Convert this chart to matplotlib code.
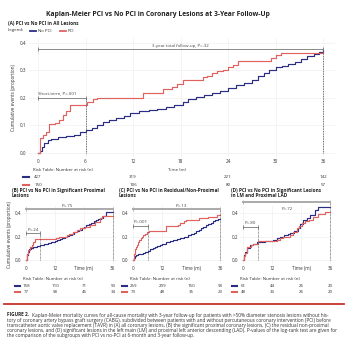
import matplotlib
matplotlib.use('Agg')
import matplotlib.pyplot as plt
from matplotlib import transforms
from matplotlib.lines import Line2D

plt.rcParams['font.family'] = ['Open Sans', 'DejaVu Sans']

NAVY = '#2b2d84'
RED = '#e0625f'

# ---- data (months, cumulative events) ----
a_nopci_t = [0, 0.3, 0.5, 0.8, 1.2, 1.6, 2.5, 3.5, 4.5, 5.3, 6.0, 6.8, 7.4, 8.2, 9.0, 9.8, 10.8, 11.6,
             12.8, 14.0, 15.0, 16.2, 17.2, 18.3, 19.0, 20.0, 21.0, 22.0, 23.0, 24.0, 25.0, 26.0, 27.0,
             27.8, 28.5, 29.2, 30.0, 30.8, 31.6, 32.4, 33.2, 34.0, 34.8, 35.5, 36.0]
a_nopci_v = [0, 0.008, 0.02, 0.035, 0.045, 0.052, 0.056, 0.06, 0.065, 0.075, 0.083, 0.09, 0.10, 0.113,
             0.12, 0.127, 0.135, 0.145, 0.15, 0.155, 0.16, 0.168, 0.175, 0.185, 0.195, 0.203, 0.21, 0.218,
             0.225, 0.235, 0.245, 0.255, 0.265, 0.278, 0.29, 0.302, 0.31, 0.316, 0.322, 0.33, 0.34, 0.35,
             0.358, 0.366, 0.372]
a_pci_t = [0, 0.2, 0.6, 1.0, 1.4, 2.1, 2.7, 3.2, 3.5, 4.0, 6.2, 7.0, 7.5, 13.2, 15.8, 16.9, 17.6, 18.3,
           20.8, 21.4, 22.0, 22.6, 23.4, 24.0, 24.6, 25.3, 29.4, 30.0, 30.7, 36.0]
a_pci_v = [0, 0.053, 0.065, 0.077, 0.104, 0.11, 0.12, 0.137, 0.15, 0.175, 0.186, 0.195, 0.2, 0.216,
           0.232, 0.24, 0.25, 0.265, 0.275, 0.28, 0.29, 0.295, 0.3, 0.31, 0.32, 0.334, 0.345, 0.355,
           0.362, 0.365]

b_nopci_t = [0, 0.3, 0.7, 1.2, 2.0, 3.0, 4.5, 6.0, 7.5, 9.0, 10.5, 12.0, 13.0, 14.0, 15.0, 16.0, 17.0,
             18.0, 19.0, 20.0, 21.0, 22.0, 23.0, 24.0, 25.0, 26.0, 27.0, 28.0, 29.0, 30.0, 31.0, 32.0,
             33.0, 36]
b_nopci_v = [0, 0.04, 0.07, 0.09, 0.1, 0.11, 0.12, 0.13, 0.14, 0.145, 0.155, 0.16, 0.17, 0.18, 0.19,
             0.195, 0.205, 0.215, 0.225, 0.24, 0.25, 0.26, 0.27, 0.285, 0.3, 0.31, 0.32, 0.33, 0.34, 0.35,
             0.36, 0.38, 0.41, 0.41]
b_pci_t = [0, 0.3, 0.8, 1.5, 2.3, 3.0, 3.7, 12.3, 13.5, 16.8, 18.0, 19.5, 21.0, 22.3, 24.4, 26.4, 28.5,
           30.6, 31.3, 36]
b_pci_v = [0, 0.05, 0.086, 0.11, 0.128, 0.157, 0.177, 0.19, 0.2, 0.214, 0.225, 0.243, 0.26, 0.271,
           0.286, 0.3, 0.328, 0.357, 0.375, 0.375]

c_nopci_t = [0, 0.3, 0.7, 1.2, 2.0, 3.0, 4.0, 5.0, 6.0, 7.0, 8.0, 9.0, 10.0, 11.0, 12.0, 13.5, 15.0,
             16.5, 18.0, 19.5, 21.0, 22.5, 24.0, 25.0, 26.0, 27.0, 28.0, 29.0, 30.0, 31.0, 32.0, 33.0,
             34.0, 35.0, 36]
c_nopci_v = [0, 0.015, 0.03, 0.04, 0.05, 0.055, 0.06, 0.07, 0.08, 0.09, 0.1, 0.11, 0.12, 0.13, 0.14,
             0.15, 0.16, 0.17, 0.18, 0.19, 0.2, 0.21, 0.225, 0.235, 0.245, 0.255, 0.27, 0.285, 0.3, 0.31,
             0.32, 0.33, 0.34, 0.35, 0.355]
c_pci_t = [0, 0.3, 0.7, 1.1, 1.5, 2.0, 2.5, 3.0, 3.5, 4.2, 5.0, 5.8, 6.5, 13.5, 18.5, 19.5, 21.0,
           22.0, 27.0, 31.0, 34.5, 36]
c_pci_v = [0, 0.05, 0.09, 0.11, 0.13, 0.15, 0.17, 0.185, 0.2, 0.21, 0.225, 0.24, 0.25, 0.29, 0.3,
           0.315, 0.33, 0.345, 0.36, 0.37, 0.385, 0.385]

d_nopci_t = [0, 0.3, 0.7, 1.4, 2.8, 4.0, 5.5, 9.0, 12.4, 14.0, 15.2, 17.0, 18.5, 19.4, 21.0, 22.8,
             23.5, 24.9, 26.5, 27.7, 29.8, 31.1, 36]
d_nopci_v = [0, 0.04, 0.07, 0.10, 0.125, 0.14, 0.155, 0.16, 0.175, 0.19, 0.2, 0.21, 0.225, 0.235,
             0.25, 0.275, 0.31, 0.34, 0.36, 0.385, 0.43, 0.455, 0.455]
d_pci_t = [0, 0.3, 0.7, 1.6, 3.0, 4.1, 6.2, 13.8, 15.0, 16.6, 19.4, 20.5, 22.1, 23.0, 24.2, 25.5,
           27.0, 29.0, 31.1, 33.8, 36]
d_pci_v = [0, 0.03, 0.06, 0.11, 0.125, 0.14, 0.165, 0.175, 0.185, 0.195, 0.215, 0.24, 0.27, 0.29,
           0.315, 0.33, 0.345, 0.37, 0.39, 0.41, 0.41]

risk_months = [0, 12, 24, 36]
a_risk_nopci = [427, 319, 221, 142]
a_risk_pci = [150, 106, 80, 57]
b_risk_nopci = [158, 110, 71, 50]
b_risk_pci = [77, 58, 45, 34]
c_risk_nopci = [269, 209, 150, 93]
c_risk_pci = [73, 48, 35, 23]
d_risk_nopci = [61, 44, 25, 20]
d_risk_pci = [48, 33, 25, 20]

p_short = ['.001', '.24', '.001', '.80']
p_total = ['.32', '.75', '.13', '.72']

caption = [
    "Kaplan-Meier mortality curves for all-cause mortality with 3-year follow-up for patients with >50% diameter stenosis lesions without his-",
    "tory of coronary artery bypass graft surgery (CABG), subdivided between patients with and without percutaneous coronary intervention (PCI) before",
    "transcatheter aortic valve replacement (TAVR) in (A) all coronary lesions, (B) the significant proximal coronary lesions, (C) the residual non-proximal",
    "coronary lesions, and (D) significant lesions in the left main (LM) and proximal left anterior descending (LAD). P-values of the log-rank test are given for",
    "the comparison of the subgroups with PCI vs no-PCI at 6-month and 3-year follow-up.",
]

W, H = 348, 350
fig = plt.figure(figsize=(W / 100, H / 100), dpi=100)

TICK = 3.3
SMALL = 3.2
HEAD = 3.4


def fx(px):
    return px / W


def fy(py):
    return 1 - py / H


def style(ax, fs):
    for s in ax.spines.values():
        s.set_visible(False)
    ax.tick_params(length=0, labelsize=fs, pad=1.5, colors='#333333')
    ax.grid(True, color='#ececec', lw=0.4)
    ax.set_axisbelow(True)


def bracket(ax, x0, x1, y, lw, color, ms):
    ax.plot([x0, x1], [y, y], color=color, lw=lw, marker='|', ms=ms, mew=0.6, clip_on=False)


def risk_rows(ax, y_head, y_rows, nopci, pci, fs, head_x, lx0, lx1):
    tr = transforms.blended_transform_factory(ax.transData, fig.transFigure)
    ax.text(head_x, fy(y_head), 'Risk Table: Number at risk (n)', transform=tr, fontsize=fs,
            ha='left', va='center', color='#333333')
    for row, col, yy in ((nopci, NAVY, y_rows[0]), (pci, RED, y_rows[1])):
        fig.add_artist(Line2D([fx(lx0), fx(lx1)], [fy(yy), fy(yy)], color=col, lw=1.5))
        for m, n in zip(risk_months, row):
            ax.text(m, fy(yy), str(n), transform=tr, fontsize=fs, ha='center', va='center',
                    color='#333333')


# ---- title and panel A header ----
fig.text(fx(158), fy(15), 'Kaplan-Meier PCI vs No PCI in Coronary Lesions at 3-Year Follow-Up',
         ha='center', va='center', fontsize=4.9, fontweight='bold', color='#222222')
fig.text(fx(8), fy(24), '(A) PCI vs No PCI in All Lesions', fontsize=HEAD, fontweight='bold',
         va='center', color='#222222')
fig.text(fx(8), fy(30.5), 'Legend:', fontsize=SMALL, va='center', color='#333333')
fig.add_artist(Line2D([fx(30), fx(36)], [fy(30.5), fy(30.5)], color=NAVY, lw=1.3))
fig.text(fx(37.5), fy(30.5), 'No PCI', fontsize=SMALL, va='center', color='#333333')
fig.add_artist(Line2D([fx(60), fx(66)], [fy(30.5), fy(30.5)], color=RED, lw=1.3))
fig.text(fx(67.5), fy(30.5), 'PCI', fontsize=SMALL, va='center', color='#333333')

# ---- panel A ----
axA = fig.add_axes([fx(28.5), fy(157), fx(334.9 - 28.5), (157 - 38.4) / H])
style(axA, TICK)
axA.set_xlim(-1.2, 37.5)
axA.set_ylim(-0.015, 0.415)
axA.set_xticks(range(0, 37, 6))
axA.set_yticks([0, 0.1, 0.2, 0.3, 0.4])
axA.set_yticklabels(['0.0', '0.1', '0.2', '0.3', '0.4'])
axA.set_ylabel('Cumulative events (proportion)', fontsize=TICK, labelpad=3, color='#333333')
axA.step(a_nopci_t, a_nopci_v, where='post', color=NAVY, lw=0.85)
axA.step(a_pci_t, a_pci_v, where='post', color=RED, lw=0.85)
axA.plot([6, 6], [0, 0.2], color='#444444', lw=0.6, ls=(0, (1, 1)))
axA.plot([36, 36], [0, 0.378], color='#444444', lw=0.6, ls=(0, (1, 1)))
bracket(axA, 0, 6, 0.2, 0.6, '#777777', 3)
axA.text(0, 0.21, 'Short-term, P=' + p_short[0], fontsize=SMALL, ha='left', va='bottom',
         color='#444444')
bracket(axA, 0, 36, 0.378, 0.6, '#777777', 3)
axA.text(18, 0.381, '3-year total follow-up, P=' + p_total[0], fontsize=SMALL, ha='center',
         va='bottom', color='#444444')
trA = transforms.blended_transform_factory(axA.transData, fig.transFigure)
axA.text(17.6, fy(170), 'Time (m)', transform=trA, fontsize=SMALL, ha='center', va='center',
         color='#333333')
risk_rows(axA, 170, (176.5, 184.5), a_risk_nopci, a_risk_pci, SMALL, -0.6, 23, 29)

# ---- panels B, C, D ----
panels = [
    (23.1, '(B) PCI vs No PCI in Significant Proximal\nLesions', 12,
     b_nopci_t, b_nopci_v, b_pci_t, b_pci_v, b_risk_nopci, b_risk_pci, 0.23, 0.435, 17),
    (130.4, '(C) PCI vs No PCI in Residual/Non-Proximal\nLesions', 119,
     c_nopci_t, c_nopci_v, c_pci_t, c_pci_v, c_risk_nopci, c_risk_pci, 0.294, 0.435, 20),
    (240.4, '(D) PCI vs No PCI in Significant Lesions\nin LM and Proximal LAD', 231,
     d_nopci_t, d_nopci_v, d_pci_t, d_pci_v, d_risk_nopci, d_risk_pci, 0.285, 0.5, 18),
]
for i, (left, head, hx, nt, nv, pt, pv, rn, rp, ys, yt, px) in enumerate(panels):
    fig.text(fx(hx), fy(193), head, fontsize=HEAD, fontweight='bold', va='center', ha='left',
             linespacing=1.2, color='#222222')
    ax = fig.add_axes([fx(left), fy(263.5), fx(93.5), (263.5 - 206.3) / H])
    style(ax, TICK)
    ax.set_xlim(-1.2, 37.5)
    ax.set_ylim(-0.03, 0.46)
    ax.set_xticks([0, 12, 24, 36])
    ax.set_xticklabels(['0', '12', 'Time (m)', '36'])
    ax.set_yticks([0, 0.2, 0.4])
    ax.set_yticklabels(['0.0', '0.2', '0.4'])
    if i == 0:
        ax.set_ylabel('Cumulative events (proportion)', fontsize=TICK, labelpad=2, color='#333333')
    ax.step(nt, nv, where='post', color=NAVY, lw=0.85)
    ax.step(pt, pv, where='post', color=RED, lw=0.85)
    ax.plot([6, 6], [0, ys], color='#444444', lw=0.5, ls=(0, (1, 1)))
    ax.plot([36, 36], [0, yt], color='#444444', lw=0.5, ls=(0, (1, 1)), clip_on=False)
    bracket(ax, 0, 6, ys, 0.6, '#777777', 2.5)
    ax.text(3, ys + 0.012, 'P=' + p_short[i + 1], fontsize=SMALL, ha='center', va='bottom',
            color='#444444')
    bracket(ax, 0, 36, yt, 1.4, '#aaaaaa', 2.5)
    if i == 2:
        ax.text(px, yt - 0.06, 'P=' + p_total[i + 1], fontsize=SMALL, ha='center', va='center',
                color='#444444')
    else:
        ax.text(px, yt + 0.01, 'P=' + p_total[i + 1], fontsize=SMALL, ha='center', va='bottom',
                color='#444444', clip_on=False)
    risk_rows(ax, 279, (286, 292), rn, rp, SMALL, -1.2, left - 8, left - 3)

# ---- caption ----
CAP = 3.4
fig.add_artist(Line2D([fx(4), fx(344)], [fy(304), fy(304)], color='#c8312c', lw=1.3))
lab = fig.text(fx(7), fy(315), 'FIGURE 2.', fontsize=CAP, fontweight='bold', va='center',
               color='#222222')
renderer = fig.canvas.get_renderer()
bb = lab.get_window_extent(renderer)
fig.text(bb.x1 / W + fx(2.5), fy(315), caption[0], fontsize=CAP, va='center', color='#333333')
for k, line in enumerate(caption[1:]):
    fig.text(fx(7), fy(320.2 + 5.1 * k), line, fontsize=CAP, va='center', color='#333333')

fig.savefig('out.png', dpi=100)
